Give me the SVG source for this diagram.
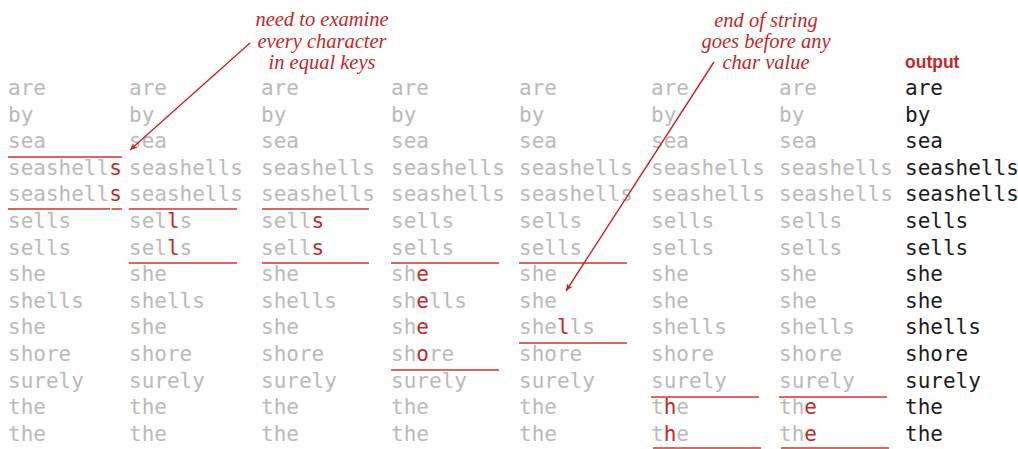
<svg xmlns="http://www.w3.org/2000/svg" width="1018" height="449" viewBox="0 0 1018 449">
<defs>
<style>
.k{font-family:"DejaVu Sans Mono","Liberation Mono",monospace;font-size:21px;fill:#bababa}
.o{fill:#1c1c1c}
.r{fill:#c0282a}
.note{font-family:"Liberation Serif",serif;font-style:italic;font-size:20.5px;fill:#c0282a;text-anchor:middle}
.hd{font-family:"Liberation Sans",Arial,sans-serif;font-weight:bold;font-size:17.5px;fill:#c0282a}
.u{stroke:#c8392f;stroke-width:1.5;fill:none}
.a{stroke:#c0282a;stroke-width:1.4;fill:none}
</style>
<marker id="ah" viewBox="0 0 10 10" refX="10" refY="5" markerWidth="10" markerHeight="7" orient="auto" markerUnits="userSpaceOnUse">
<path d="M0,0.5 L10,5 L0,9.5 L2.5,5 Z" fill="#c0282a"/>
</marker>
</defs>
<rect width="1018" height="449" fill="#fff"/>

<g id="note1">
<text class="note" x="322" y="26">need to examine</text>
<text class="note" x="322" y="48">every character</text>
<text class="note" x="322" y="69">in equal keys</text>
</g>
<g id="note2">
<text class="note" x="766" y="27">end of string</text>
<text class="note" x="766" y="48">goes before any</text>
<text class="note" x="766" y="69">char value</text>
</g>
<g id="output-label"><text class="hd" x="905" y="68">output</text></g>

<g id="col1" class="k">
<text x="8" y="95">are</text>
<text x="8" y="121.6">by</text>
<text x="8" y="148.2">sea</text>
<text x="8" y="174.8">seashell<tspan class="r">s</tspan></text>
<text x="8" y="201.4">seashell<tspan class="r">s</tspan></text>
<text x="8" y="228">sells</text>
<text x="8" y="254.6">sells</text>
<text x="8" y="281.2">she</text>
<text x="8" y="307.8">shells</text>
<text x="8" y="334.4">she</text>
<text x="8" y="361">shore</text>
<text x="8" y="387.6">surely</text>
<text x="8" y="414.2">the</text>
<text x="8" y="440.8">the</text>
</g>
<g id="col2" class="k">
<text x="129" y="95">are</text>
<text x="129" y="121.6">by</text>
<text x="129" y="148.2">sea</text>
<text x="129" y="174.8">seashells</text>
<text x="129" y="201.4">seashells</text>
<text x="129" y="228">sel<tspan class="r">l</tspan>s</text>
<text x="129" y="254.6">sel<tspan class="r">l</tspan>s</text>
<text x="129" y="281.2">she</text>
<text x="129" y="307.8">shells</text>
<text x="129" y="334.4">she</text>
<text x="129" y="361">shore</text>
<text x="129" y="387.6">surely</text>
<text x="129" y="414.2">the</text>
<text x="129" y="440.8">the</text>
</g>
<g id="col3" class="k">
<text x="261" y="95">are</text>
<text x="261" y="121.6">by</text>
<text x="261" y="148.2">sea</text>
<text x="261" y="174.8">seashells</text>
<text x="261" y="201.4">seashells</text>
<text x="261" y="228">sell<tspan class="r">s</tspan></text>
<text x="261" y="254.6">sell<tspan class="r">s</tspan></text>
<text x="261" y="281.2">she</text>
<text x="261" y="307.8">shells</text>
<text x="261" y="334.4">she</text>
<text x="261" y="361">shore</text>
<text x="261" y="387.6">surely</text>
<text x="261" y="414.2">the</text>
<text x="261" y="440.8">the</text>
</g>
<g id="col4" class="k">
<text x="391" y="95">are</text>
<text x="391" y="121.6">by</text>
<text x="391" y="148.2">sea</text>
<text x="391" y="174.8">seashells</text>
<text x="391" y="201.4">seashells</text>
<text x="391" y="228">sells</text>
<text x="391" y="254.6">sells</text>
<text x="391" y="281.2">sh<tspan class="r">e</tspan></text>
<text x="391" y="307.8">sh<tspan class="r">e</tspan>lls</text>
<text x="391" y="334.4">sh<tspan class="r">e</tspan></text>
<text x="391" y="361">sh<tspan class="r">o</tspan>re</text>
<text x="391" y="387.6">surely</text>
<text x="391" y="414.2">the</text>
<text x="391" y="440.8">the</text>
</g>
<g id="col5" class="k">
<text x="519" y="95">are</text>
<text x="519" y="121.6">by</text>
<text x="519" y="148.2">sea</text>
<text x="519" y="174.8">seashells</text>
<text x="519" y="201.4">seashells</text>
<text x="519" y="228">sells</text>
<text x="519" y="254.6">sells</text>
<text x="519" y="281.2">she</text>
<text x="519" y="307.8">she</text>
<text x="519" y="334.4">she<tspan class="r">l</tspan>ls</text>
<text x="519" y="361">shore</text>
<text x="519" y="387.6">surely</text>
<text x="519" y="414.2">the</text>
<text x="519" y="440.8">the</text>
</g>
<g id="col6" class="k">
<text x="651" y="95">are</text>
<text x="651" y="121.6">by</text>
<text x="651" y="148.2">sea</text>
<text x="651" y="174.8">seashells</text>
<text x="651" y="201.4">seashells</text>
<text x="651" y="228">sells</text>
<text x="651" y="254.6">sells</text>
<text x="651" y="281.2">she</text>
<text x="651" y="307.8">she</text>
<text x="651" y="334.4">shells</text>
<text x="651" y="361">shore</text>
<text x="651" y="387.6">surely</text>
<text x="651" y="414.2">t<tspan class="r">h</tspan>e</text>
<text x="651" y="440.8">t<tspan class="r">h</tspan>e</text>
</g>
<g id="col7" class="k">
<text x="779" y="95">are</text>
<text x="779" y="121.6">by</text>
<text x="779" y="148.2">sea</text>
<text x="779" y="174.8">seashells</text>
<text x="779" y="201.4">seashells</text>
<text x="779" y="228">sells</text>
<text x="779" y="254.6">sells</text>
<text x="779" y="281.2">she</text>
<text x="779" y="307.8">she</text>
<text x="779" y="334.4">shells</text>
<text x="779" y="361">shore</text>
<text x="779" y="387.6">surely</text>
<text x="779" y="414.2">th<tspan class="r">e</tspan></text>
<text x="779" y="440.8">th<tspan class="r">e</tspan></text>
</g>
<g id="output" class="k o">
<text x="905" y="95">are</text>
<text x="905" y="121.6">by</text>
<text x="905" y="148.2">sea</text>
<text x="905" y="174.8">seashells</text>
<text x="905" y="201.4">seashells</text>
<text x="905" y="228">sells</text>
<text x="905" y="254.6">sells</text>
<text x="905" y="281.2">she</text>
<text x="905" y="307.8">she</text>
<text x="905" y="334.4">shells</text>
<text x="905" y="361">shore</text>
<text x="905" y="387.6">surely</text>
<text x="905" y="414.2">the</text>
<text x="905" y="440.8">the</text>
</g>

<g id="separators" class="u">
<line x1="8" y1="157" x2="122" y2="157"/>
<line x1="8" y1="209" x2="110" y2="209"/>
<line x1="111.5" y1="209" x2="122" y2="209"/>
<line x1="129" y1="209" x2="237" y2="209"/>
<line x1="129" y1="263" x2="237" y2="263"/>
<line x1="262" y1="209" x2="369" y2="209"/>
<line x1="262" y1="263" x2="369" y2="263"/>
<line x1="391" y1="263" x2="499" y2="263"/>
<line x1="391" y1="370" x2="499" y2="370"/>
<line x1="519" y1="263" x2="627" y2="263"/>
<line x1="519" y1="343" x2="627" y2="343"/>
<line x1="651" y1="397" x2="759" y2="397"/>
<line x1="653" y1="448" x2="761" y2="448"/>
<line x1="779" y1="397" x2="887" y2="397"/>
<line x1="781" y1="448" x2="889" y2="448"/>
</g>

<g id="connectors" class="a">
<line x1="250" y1="43" x2="130" y2="150" marker-end="url(#ah)"/>
<line x1="714" y1="62" x2="566" y2="291" marker-end="url(#ah)"/>
</g>
</svg>
